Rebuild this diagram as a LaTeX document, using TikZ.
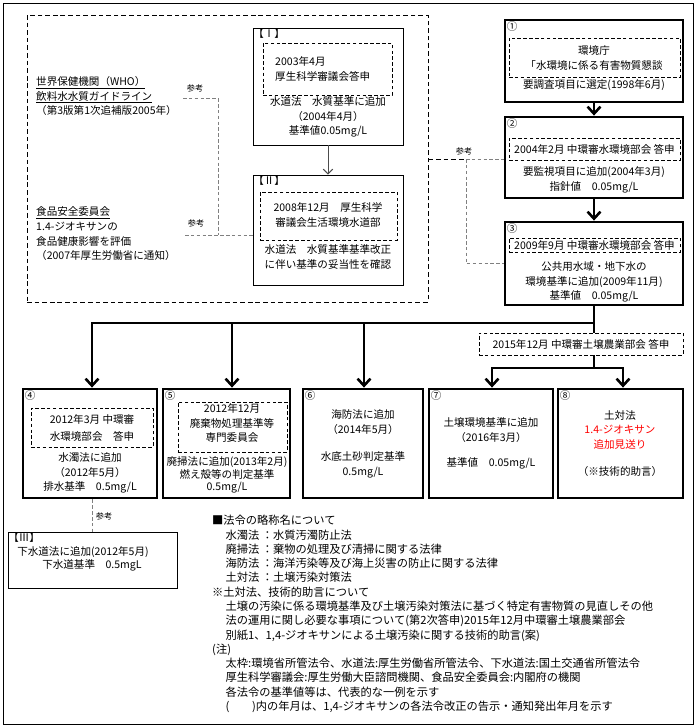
\documentclass[tikz,border=0pt]{standalone}
\usepackage{fontspec}
\setmainfont{Noto Sans CJK JP}
\usetikzlibrary{arrows.meta, positioning}
\definecolor{refgray}{RGB}{128,128,128}

\begin{document}
\begin{tikzpicture}[x=0.03cm, y=-0.03cm, font=\fontsize{9}{12.5}\selectfont,
    thinbox/.style={rectangle, draw, line width=0.8pt, inner sep=0},
    thickbox/.style={rectangle, draw, line width=2.4pt, inner sep=0},
    dashbox/.style={rectangle, draw, line width=0.6pt, dash pattern=on 3pt off 2pt, inner sep=0},
    txt/.style={align=center, inner sep=0},
    num/.style={anchor=north west, inner sep=0.5pt},
    reflabel/.style={inner sep=0, font=\fontsize{7}{8}\selectfont},
    refline/.style={draw=refgray, line width=0.8pt, dash pattern=on 3pt off 2pt},
    treeline/.style={line width=2.4pt},
    treearrow/.style={line width=2.4pt, -{Straight Barb[length=6pt, width=11pt, line width=2.2pt]}}]
        \useasboundingbox (0,0) rectangle (699,727);
        \draw[line width=0.8pt] (3,3) rectangle (693,724);

        \node at (227.5,158.5) [rectangle, draw, line width=0.8pt, dash pattern=on 4pt off 2.5pt, minimum width=12.03cm, minimum height=8.61cm] (refarea) {};

        \node at (36,96) [anchor=west, align=left, inner sep=0] (who) {\underline{世界保健機関（WHO）}\\\underline{飲料水水質ガイドライン}\\（第3版第1次追補版2005年）};
        \node at (36,234) [anchor=west, align=left, inner sep=0] (fsc) {\underline{食品安全委員会}\\1.4-ジオキサンの\\食品健康影響を評価\\（2007年厚生労働省に通知）};

        \node at (328,86.5) [thinbox, minimum width=4.5cm, minimum height=3.51cm] (box1) {};
        \node at (box1.north west) [num] (box1_num) {【Ⅰ】};
        \node at (327.5,69) [dashbox, minimum width=3.87cm, minimum height=1.56cm] (box1_in) {};
        \node at (275,69) [txt, anchor=west, align=left] (box1_in_txt) {2003年4月\\厚生科学審議会答申};
        \node at (328,117) [txt] (box1_txt) {水道法　水質基準に追加\\（2004年4月）\\基準値0.05mg/L};

        \node at (328,230) [thinbox, minimum width=4.5cm, minimum height=3.3cm] (box2) {};
        \node at (box2.north west) [num] (box2_num) {【Ⅱ】};
        \node at (328.5,216) [dashbox, minimum width=4.11cm, minimum height=1.44cm] (box2_in) {};
        \node at (328,215) [txt] (box2_in_txt) {2008年12月　厚生科学\\審議会生活環境水道部};
        \node at (328,257) [txt] (box2_txt) {水道法　水質基準基準改正\\に伴い基準の妥当性を確認};

        \node at (195,88) [reflabel] (ref_who) {参考};
        \node at (196,223) [reflabel] (ref_fsc) {参考};
        \coordinate (who_end) at (183,98);
        \coordinate (fsc_end) at (185,235);
        \coordinate (ref_join) at (218,235);

        \node at (594,61) [thickbox, minimum width=5.34cm, minimum height=2.46cm] (c1) {};
        \node at (c1.north west) [num, xshift=2pt, yshift=-2pt] (c1_num) {①};
        \node at (594.5,57.5) [dashbox, minimum width=5.13cm, minimum height=1.17cm] (c1_in) {};
        \node at (594,58) [txt] (c1_in_txt) {環境庁\\「水環境に係る有害物質懇談};
        \node at (594,85) [txt] (c1_txt) {要調査項目に選定(1998年6月)};

        \node at (594,157.5) [thickbox, minimum width=5.34cm, minimum height=2.43cm] (c2) {};
        \node at (c2.north west) [num, xshift=2pt, yshift=-2pt] (c2_num) {②};
        \node at (594.5,149) [dashbox, minimum width=5.13cm, minimum height=0.66cm] (c2_in) {2004年2月 中環審水環境部会 答申};
        \node at (594,180) [txt] (c2_txt) {要監視項目に追加(2004年3月)\\指針値　0.05mg/L};

        \node at (594,263.5) [thickbox, minimum width=5.34cm, minimum height=2.49cm] (c3) {};
        \node at (c3.north west) [num, xshift=2pt, yshift=-2pt] (c3_num) {③};
        \node at (594.5,245) [dashbox, minimum width=5.13cm, minimum height=0.42cm] (c3_in) {2009年9月 中環審水環境部会 答申};
        \node at (594,282) [txt] (c3_txt) {公共用水域・地下水の\\環境基準に追加(2009年11月)\\基準値　0.05mg/L};

        \coordinate (ref_split) at (466,159);
        \node at (464,151) [reflabel] (ref_env) {参考};

        \node at (581,344) [dashbox, minimum width=6.12cm, minimum height=0.66cm] (soil_rep) {2015年12月 中環審土壌農業部会 答申};

        \node at (90,443.5) [thickbox, minimum width=4.02cm, minimum height=3.27cm] (b4) {};
        \node at (b4.north west) [num, xshift=2pt, yshift=-2pt] (b4_num) {④};
        \node at (92,427.5) [dashbox, minimum width=3.66cm, minimum height=1.17cm] (b4_in) {};
        \node at (92,428) [txt] (b4_in_txt) {2012年3月 中環審\\[2pt]水環境部会　答申};
        \node at (90,473) [txt] (b4_txt) {水濁法に追加\\（2012年5月）\\排水基準　0.5mg/L};

        \node at (226.5,443.5) [thickbox, minimum width=3.81cm, minimum height=3.27cm] (b5) {};
        \node at (b5.north west) [num, xshift=2pt, yshift=-2pt] (b5_num) {⑤};
        \node at (232.5,427) [dashbox, minimum width=3.27cm, minimum height=1.5cm] (b5_in) {};
        \node at (232,423) [txt] (b5_in_txt) {2012年12月\\廃棄物処理基準等\\専門委員会};
        \node at (227,475) [txt, font=\fontsize{9}{10.5}\selectfont] (b5_txt) {廃掃法に追加(2013年2月)\\燃え殻等の判定基準\\0.5mg/L};

        \node at (363,443.5) [thickbox, minimum width=3.6cm, minimum height=3.27cm] (b6) {};
        \node at (b6.north west) [num, xshift=2pt, yshift=-2pt] (b6_num) {⑥};
        \node at (363,422) [txt] (b6_txt_a) {海防法に追加\\（2014年5月）};
        \node at (363,465) [txt] (b6_txt_b) {水底土砂判定基準\\0.5mg/L};

        \node at (491,443.5) [thickbox, minimum width=3.72cm, minimum height=3.27cm] (b7) {};
        \node at (b7.north west) [num, xshift=2pt, yshift=-2pt] (b7_num) {⑦};
        \node at (491,430) [txt] (b7_txt_a) {土壌環境基準に追加\\（2016年3月）};
        \node at (491,463) [txt] (b7_txt_b) {基準値　0.05mg/L};

        \node at (620.5,443.5) [thickbox, minimum width=3.75cm, minimum height=3.27cm] (b8) {};
        \node at (b8.north west) [num, xshift=2pt, yshift=-2pt] (b8_num) {⑧};
        \node at (620,415) [txt] (b8_txt_a) {土対法};
        \node at (620,437) [txt, text=red] (b8_txt_b) {1.4-ジオキサン\\追加見送り};
        \node at (620,471) [txt] (b8_txt_c) {（※技術的助言）};

        \node at (92.5,560) [thinbox, minimum width=5.07cm, minimum height=1.68cm] (b_sewer) {};
        \node at (b_sewer.north west) [num] (b_sewer_num) {【Ⅲ】};
        \node at (83,552) [txt] (b_sewer_txt_a) {下水道法に追加(2012年5月)};
        \node at (92,565) [txt] (b_sewer_txt_b) {下水道基準　0.5mgL};
        \node at (104,516) [reflabel] (ref_sewer) {参考};

        \coordinate (fork) at (594,323);
        \coordinate (fork4) at (92,323);
        \coordinate (fork5) at (232,323);
        \coordinate (fork6) at (364,323);
        \coordinate (fork78) at (594,368);
        \coordinate (fork7) at (492,368);
        \coordinate (fork8) at (623,368);

        \node at (212,515) [anchor=north west, align=left, inner sep=0, font=\fontsize{9.6}{12.2}\selectfont] (notes) {■法令の略称名について\\
            \hspace*{1.2em}水濁法\ ：水質汚濁防止法\\
            \hspace*{1.2em}廃掃法\ ：棄物の処理及び清掃に関する法律\\
            \hspace*{1.2em}海防法\ ：海洋汚染等及び海上災害の防止に関する法律\\
            \hspace*{1.2em}土対法\ ：土壌汚染対策法\\
            ※土対法、技術的助言について\\
            \hspace*{1.2em}土壌の汚染に係る環境基準及び土壌汚染対策法に基づく特定有害物質の見直しその他\\
            \hspace*{1.2em}法の運用に関し必要な事項について(第2次答申)2015年12月中環審土壌農業部会\\
            \hspace*{1.2em}別紙1、1,4-ジオキサンによる土壌汚染に関する技術的助言(案)\\
            (注)\\
            \hspace*{1.2em}太枠:環境省所管法令、水道法:厚生労働省所管法令、下水道法:国土交通省所管法令\\
            \hspace*{1.2em}厚生科学審議会:厚生労働大臣諮問機関、食品安全委員会:内閣府の機関\\
            \hspace*{1.2em}各法令の基準値等は、代表的な一例を示す\\
            \hspace*{1.2em}(\hspace{2em})内の年月は、1,4-ジオキサンの各法令改正の告示・通知発出年月を示す};

        \draw[draw=black!70, line width=0.8pt, -{Straight Barb[length=4pt, width=8pt]}] (box1.south) -- (box2.north);
        \draw[refline] (who_end) -| (ref_join);
        \draw[refline] (fsc_end) -- (fsc_end -| box2.west);

        \draw[line width=0.8pt, dash pattern=on 4pt off 2.5pt] (refarea.east |- ref_split) -- (ref_split);
        \draw[refline] (ref_split) -- (ref_split -| c2.west);
        \draw[refline] (ref_split) |- (c3.west);

        \draw[treearrow] (c1.south) -- (c2.north);
        \draw[treearrow] (c2.south) -- (c3.north);

        \draw[treeline] (c3.south) -- (c3.south |- soil_rep.north);
        \draw[treearrow] (fork) -- (fork4) -- (fork4 |- b4.north);
        \draw[treearrow] (fork) -- (fork5) -- (fork5 |- b5.north);
        \draw[treearrow] (fork) -- (fork6) -- (fork6 |- b6.north);
        \draw[treeline] (c3.south |- soil_rep.south) -- (fork78);
        \draw[treearrow] (fork78) -- (fork7) -- (fork7 |- b7.north);
        \draw[treearrow] (fork78) -- (fork8) -- (fork8 |- b8.north);

        \draw[refline] (b_sewer.north |- b4.south) -- (b_sewer.north);
\end{tikzpicture}
\end{document}
